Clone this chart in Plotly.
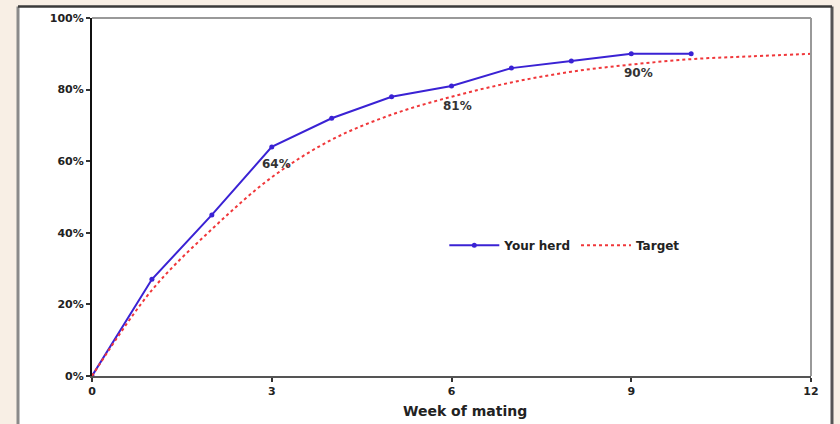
import plotly.graph_objects as go

# Cumulative percentage of herd mated by week of mating
weeks = [0, 1, 2, 3, 4, 5, 6, 7, 8, 9, 10]
your_herd = [0, 27, 45, 64, 72, 78, 81, 86, 88, 90, 90]

target_weeks = [0, 1, 2, 3, 4, 5, 6, 7, 8, 9, 10, 11, 12]
target = [0, 24, 41, 55.5, 66, 73, 78, 82, 85, 87, 88.5, 89.3, 90]

# Weeks whose value is printed beside the point
label_weeks = [3, 6, 9]

x_ticks = [0, 3, 6, 9, 12]
y_ticks = [0, 20, 40, 60, 80, 100]
y_tick_text = ["0%", "20%", "40%", "60%", "80%", "100%"]

BLUE = "#3a22d4"
RED = "#f0373a"
FONT = "DejaVu Sans"
TEXT = "#222222"

fig = go.Figure()

fig.add_trace(go.Scatter(
    x=weeks, y=your_herd, name="Your herd", mode="lines+markers",
    line=dict(color=BLUE, width=2), marker=dict(color=BLUE, size=5),
))
fig.add_trace(go.Scatter(
    x=target_weeks, y=target, name="Target", mode="lines",
    line=dict(color=RED, width=2, dash="dot", shape="spline"),
))

label_shift = {3: (5, -17), 6: (6, -20), 9: (7, -19)}
for w in label_weeks:
    v = your_herd[weeks.index(w)]
    dx, dy = label_shift[w]
    fig.add_annotation(
        x=w, y=v, text=f"{v}%", showarrow=False, xshift=dx, yshift=dy,
        font=dict(family=FONT, size=12, color="#333333", weight="bold"),
    )

# x-axis title, placed slightly right of the plot centre
fig.add_annotation(
    x=0.519, y=-0.098, xref="paper", yref="paper", text="Week of mating",
    showarrow=False, xanchor="center", yanchor="middle",
    font=dict(family=FONT, size=14, color=TEXT, weight="bold"),
)

# Outer frame: cream surround with a white panel
shapes = [
    dict(type="rect", xref="paper", yref="paper", x0=-0.1029, x1=1.0292,
         y0=-0.2, y1=1.0319, fillcolor="white", line=dict(width=0), layer="below"),
    dict(type="line", xref="paper", yref="paper", x0=-0.1029, x1=-0.1029,
         y0=-0.2, y1=1.0319, line=dict(color="#8a8a8a", width=3)),
    dict(type="line", xref="paper", yref="paper", x0=1.0292, x1=1.0292,
         y0=-0.2, y1=1.0319, line=dict(color="#555555", width=3)),
    dict(type="line", xref="paper", yref="paper", x0=-0.1029, x1=1.0292,
         y0=1.0319, y1=1.0319, line=dict(color="#3a3a3a", width=2.5)),
    # top and right edges of the plot area
    dict(type="line", xref="paper", yref="paper", x0=0, x1=1,
         y0=1, y1=1, line=dict(color="#999999", width=2)),
    dict(type="line", xref="paper", yref="paper", x0=1, x1=1,
         y0=0, y1=1, line=dict(color="#999999", width=2)),
]

fig.update_layout(
    width=840, height=424,
    margin=dict(l=92, r=29, t=15, b=48),
    paper_bgcolor="#f8efe5",
    plot_bgcolor="white",
    shapes=shapes,
    showlegend=True,
    legend=dict(
        orientation="h", x=0.49, y=0.365, xanchor="left", yanchor="middle",
        bgcolor="rgba(0,0,0,0)", tracegroupgap=0, itemwidth=50,
        font=dict(family=FONT, size=12, color=TEXT, weight="bold"),
    ),
    xaxis=dict(
        range=[0, 12], tickvals=x_ticks, showgrid=False, zeroline=False,
        showline=True, linecolor="#555555", linewidth=2,
        ticks="outside", ticklen=4, tickcolor="#333333", tickwidth=1.5,
        tickfont=dict(family=FONT, size=11, color=TEXT, weight="bold"),
    ),
    yaxis=dict(
        range=[0, 100], tickvals=y_ticks, ticktext=y_tick_text,
        showgrid=False, zeroline=False,
        showline=True, linecolor="#111111", linewidth=2,
        ticks="outside", ticklen=4, tickcolor="#333333", tickwidth=1.5,
        tickfont=dict(family=FONT, size=11, color=TEXT, weight="bold"),
    ),
)

fig.write_html("out.html")
